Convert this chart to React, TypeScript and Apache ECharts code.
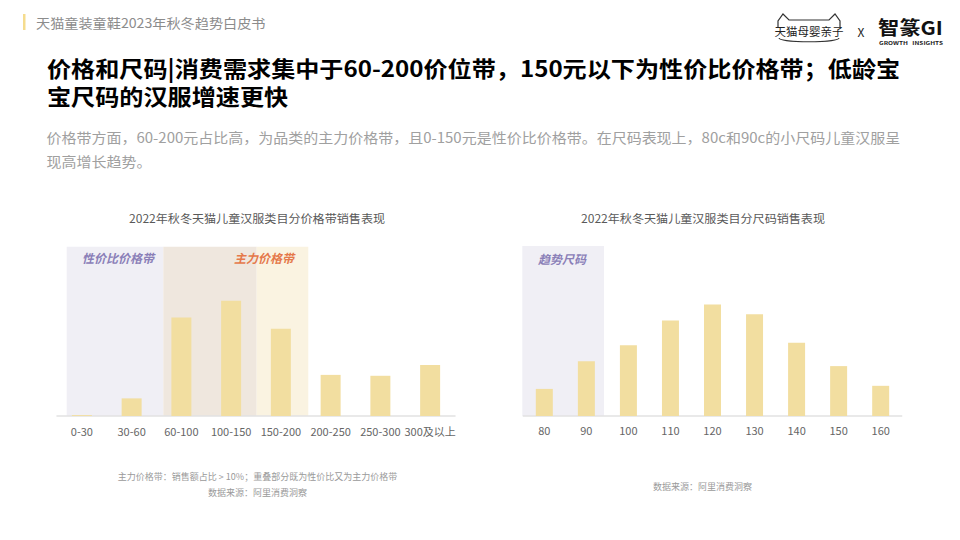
import React, { useEffect, useRef } from "react";
import * as echarts from "echarts";

// ---- data ----
const priceBands = ["0-30", "30-60", "60-100", "100-150", "150-200", "200-250", "250-300", "300及以上"];
const priceShare = [0.2, 3.9, 21.8, 25.5, 19.3, 9.1, 8.9, 11.3];
const sizes = ["80", "90", "100", "110", "120", "130", "140", "150", "160"];
const sizeShare = [4.4, 8.9, 11.5, 15.5, 18.1, 16.5, 11.9, 8.1, 4.9];

const headerText = "天猫童装童鞋2023年秋冬趋势白皮书";
const titleLines = [
  "价格和尺码|消费需求集中于60-200价位带，150元以下为性价比价格带；低龄宝",
  "宝尺码的汉服增速更快",
];
const subLines = [
  "价格带方面，60-200元占比高，为品类的主力价格带，且0-150元是性价比价格带。在尺码表现上，80c和90c的小尺码儿童汉服呈",
  "现高增长趋势。",
];
const leftTitle = "2022年秋冬天猫儿童汉服类目分价格带销售表现";
const rightTitle = "2022年秋冬天猫儿童汉服类目分尺码销售表现";
const leftNote = "主力价格带：销售额占比 > 10%；重叠部分既为性价比又为主力价格带";
const sourceNote = "数据来源：阿里消费洞察";

const FONT = "'Noto Sans CJK SC', 'Noto Sans', sans-serif";
const BAR = "#f2dea0";

export default function App() {
  const ref = useRef<HTMLDivElement>(null);
  useEffect(() => {
    document.body.style.margin = "0";
    const chart = echarts.init(ref.current!, null, { renderer: "svg" });
    const txt = (x: number, y: number, text: string, style: any, extra: any = {}) => ({
      type: "text",
      x,
      y,
      style: { text, fontFamily: FONT, verticalAlign: "middle", ...style },
      ...extra,
    });
    chart.setOption({
      animation: false,
      backgroundColor: "#ffffff",
      textStyle: { fontFamily: FONT },
      grid: [
        { left: 57, right: 505, top: 247, bottom: 124 },
        { left: 523.3, right: 58.3, top: 246, bottom: 124 },
      ],
      xAxis: [
        {
          type: "category",
          gridIndex: 0,
          data: priceBands,
          axisLine: { lineStyle: { color: "#e2e2e2", width: 1.5 } },
          axisTick: { show: false },
          axisLabel: { color: "#666", fontSize: 11, margin: 9, interval: 0 },
        },
        {
          type: "category",
          gridIndex: 1,
          data: sizes,
          axisLine: { lineStyle: { color: "#e2e2e2", width: 1.5 } },
          axisTick: { show: false },
          axisLabel: { color: "#666", fontSize: 11, margin: 8, interval: 0 },
        },
      ],
      yAxis: [
        { type: "value", gridIndex: 0, min: 0, max: 37.4, show: false },
        { type: "value", gridIndex: 1, min: 0, max: 27.6, show: false },
      ],
      series: [
        {
          type: "bar",
          xAxisIndex: 0,
          yAxisIndex: 0,
          data: priceShare,
          barWidth: 20,
          itemStyle: { color: BAR },
          z: 5,
        },
        {
          type: "bar",
          xAxisIndex: 1,
          yAxisIndex: 1,
          data: sizeShare,
          barWidth: 17,
          itemStyle: { color: BAR },
          z: 5,
        },
      ],
      graphic: [
        // header
        { type: "rect", shape: { x: 23, y: 14, width: 2.5, height: 16 }, style: { fill: "#f5dc8e" } },
        txt(36, 22, headerText, { fontSize: 13, fill: "#8c8c8c" }, { scaleX: 1.09 }),
        // logo left: cat head
        {
          type: "polyline",
          shape: { points: [[778, 27], [778, 21], [783, 14], [789, 20], [829, 20], [835, 14], [840, 21], [840, 27]] },
          style: { stroke: "#333", lineWidth: 1.2, fill: "none" },
        },
        {
          type: "bezierCurve",
          shape: { x1: 779, y1: 38, cpx1: 780, cpy1: 43, cpx2: 838, cpy2: 43, x2: 839, y2: 38 },
          style: { stroke: "#333", lineWidth: 1.2, fill: "none" },
        },
        txt(809, 31, "天猫母婴亲子", { fontSize: 11.5, fill: "#222", align: "center" }),
        txt(861, 31, "X", { fontSize: 12, fill: "#222", align: "center" }),
        txt(878, 27, "智篆GI", { fontSize: 19, lineHeight: 19, fill: "#111", fontWeight: "bold" }, { scaleX: 1.12 }),
        txt(911, 43, "GROWTH   INSIGHTS", { fontSize: 5, lineHeight: 5, fill: "#222", fontWeight: "bold", align: "center" }, { scaleX: 1.3 }),
        // main title
        txt(47, 53, titleLines.join("\n"), {
          fontSize: 22,
          lineHeight: 28,
          fill: "#000",
          fontWeight: "bold",
          verticalAlign: "top",
        }, { scaleX: 1.096 }),
        // subtitle
        txt(46.5, 124, subLines.join("\n"), {
          fontSize: 14,
          lineHeight: 24.5,
          fill: "#a0a0a0",
          verticalAlign: "top",
        }, { scaleX: 1.072 }),
        // chart titles
        txt(257, 218, leftTitle, { fontSize: 11.5, fill: "#595959", align: "center" }, { scaleX: 1.05 }),
        txt(703, 218, rightTitle, { fontSize: 11.5, fill: "#595959", align: "center" }, { scaleX: 1.05 }),
        // bands left
        { type: "rect", shape: { x: 66.7, y: 246.7, width: 96.6, height: 169.3 }, style: { fill: "#f0eff5" }, z: -1 },
        { type: "rect", shape: { x: 163.3, y: 246.7, width: 93.4, height: 169.3 }, style: { fill: "#efe7de" }, z: -1 },
        { type: "rect", shape: { x: 256.7, y: 246.7, width: 51.6, height: 169.3 }, style: { fill: "#faf3e1" }, z: -1 },
        txt(118, 257, "性价比价格带", { fontSize: 12, fill: "#8b80b8", fontWeight: "bold", fontStyle: "italic", align: "center" }),
        txt(264, 257, "主力价格带", { fontSize: 12, fill: "#e5794b", fontWeight: "bold", fontStyle: "italic", align: "center" }),
        // band right
        { type: "rect", shape: { x: 522.3, y: 246, width: 81.7, height: 170 }, style: { fill: "#f0eff5" }, z: -1 },
        txt(562, 258, "趋势尺码", { fontSize: 12, fill: "#8b80b8", fontWeight: "bold", fontStyle: "italic", align: "center" }),
        // notes
        txt(257.5, 476.5, leftNote, { fontSize: 9, fill: "#9a9a9a", align: "center" }),
        txt(257.5, 492, sourceNote, { fontSize: 9, fill: "#9a9a9a", align: "center" }),
        txt(702.5, 486, sourceNote, { fontSize: 9, fill: "#9a9a9a", align: "center" }),
      ],
    });
    return () => chart.dispose();
  }, []);
  return <div ref={ref} style={{ position: "absolute", left: 0, top: 0, width: 960, height: 540 }} />;
}
